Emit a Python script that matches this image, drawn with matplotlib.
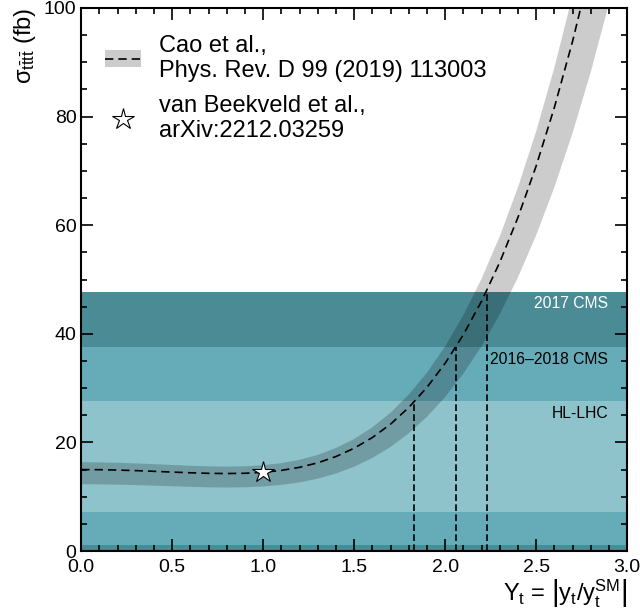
import numpy as np
import matplotlib
matplotlib.use("Agg")
import matplotlib.pyplot as plt
from matplotlib.patches import Patch
from matplotlib.lines import Line2D
from matplotlib.ticker import MultipleLocator

plt.rcParams['font.family'] = ['Liberation Sans', 'DejaVu Sans']
plt.rcParams['mathtext.fontset'] = 'custom'
plt.rcParams['mathtext.rm'] = 'Liberation Sans'
plt.rcParams['mathtext.it'] = 'Liberation Sans:italic'
plt.rcParams['mathtext.bf'] = 'Liberation Sans:bold'

# Cao et al. prediction vs top Yukawa modifier
yt = [0.0, 0.1, 0.2, 0.3, 0.4, 0.5, 0.6, 0.7, 0.8, 0.9, 1.0,
      1.1, 1.2, 1.3, 1.4, 1.5, 1.6, 1.7, 1.8, 1.9, 2.0,
      2.1, 2.2, 2.3, 2.4, 2.5, 2.6, 2.7, 2.8, 2.9, 3.0]
xsec = [15.00, 14.98, 14.91, 14.81, 14.68, 14.54, 14.41, 14.31, 14.27, 14.32, 14.50,
        14.85, 15.42, 16.25, 17.41, 18.94, 20.91, 23.38, 26.45, 30.16, 34.60,
        39.86, 46.03, 53.20, 61.47, 70.94, 81.71, 93.89, 107.61, 122.97, 140.10]
xsec_up = [16.35, 16.33, 16.25, 16.14, 16.00, 15.85, 15.71, 15.60, 15.55, 15.61, 15.81,
           16.19, 16.81, 17.71, 18.98, 20.64, 22.79, 25.48, 28.83, 32.87, 37.71,
           43.45, 50.17, 57.99, 67.00, 77.32, 89.06, 102.34, 117.29, 134.04, 152.70]
xsec_dn = [12.30, 12.28, 12.23, 12.14, 12.04, 11.92, 11.82, 11.73, 11.70, 11.74, 11.89,
           12.18, 12.64, 13.33, 14.28, 15.53, 17.15, 19.17, 21.69, 24.73, 28.37,
           32.69, 37.74, 43.62, 50.41, 58.17, 67.00, 76.99, 88.24, 100.84, 114.90]

# SM point (van Beekveld et al.)
sm_yt = 1.0
sm_xsec = 14.5

# measurement / projection bands
band_names = ['2017 CMS', '2016\u20132018 CMS', 'HL-LHC']
band_lo = [0.0, 1.1, 7.2]
band_hi = [47.7, 37.5, 27.7]
band_text_y = [45.5, 35.2, 25.4]
band_colors = ['#4a8b96', '#66abb8', '#8fc3cc']
band_text_colors = ['white', 'black', 'black']

# limits on Y_t where the prediction crosses each upper bound
limit_yt = [2.229, 2.060, 1.831]

fig = plt.figure(figsize=(6.4, 6.15), dpi=100)
ax = fig.add_axes([0.127, 0.104, 0.853, 0.883])

for lo, hi, c in zip(band_lo, band_hi, band_colors):
    ax.axhspan(lo, hi, color=c, lw=0, zorder=0)
for name, ty, tc in zip(band_names, band_text_y, band_text_colors):
    ax.text(2.895, ty, name, ha='right', va='center', color=tc, fontsize=11.3, zorder=5)

ax.fill_between(yt, xsec_dn, xsec_up, color='black', alpha=0.2, lw=0, zorder=2)
ax.plot(yt, xsec, color='black', ls=(0, (5, 3)), lw=1.2, zorder=3)

for x, hi in zip(limit_yt, band_hi):
    ax.plot([x, x], [0, hi], color='black', ls=(0, (4, 2)), lw=1.2, zorder=3)

ax.plot(sm_yt, sm_xsec, marker='*', ms=16, mfc='white', mec='black', mew=0.8,
        ls='none', zorder=4)

ax.set_xlim(0, 3)
ax.set_ylim(0, 100)
ax.xaxis.set_major_locator(MultipleLocator(0.5))
ax.xaxis.set_minor_locator(MultipleLocator(0.1))
ax.yaxis.set_major_locator(MultipleLocator(20))
ax.yaxis.set_minor_locator(MultipleLocator(5))
ax.tick_params(which='both', direction='in', top=True, right=True, labelsize=14, width=1.2)
ax.tick_params(which='major', length=8.5)
ax.tick_params(which='minor', length=4.5)
ax.tick_params(axis='x', pad=6)
for s in ax.spines.values():
    s.set_linewidth(1.5)

ax.set_xlabel(r'$\mathrm{Y_t}$ = $\left|\mathrm{y_t/y_t^{SM}}\right|$', fontsize=17,
              loc='right', labelpad=0.5)
ax.set_ylabel('\u03c3' + r'$_{\mathrm{t\bar{t}t\bar{t}}}$ (fb)', fontsize=17, loc='top')

handles = [(Patch(color='#cccccc', lw=0), Line2D([], [], color='black', ls=(0, (5, 3)), lw=1.2)),
           Line2D([], [], marker='*', ms=16, mfc='white', mec='black', mew=0.8, ls='none')]
labels = ['Cao et al.,\nPhys. Rev. D 99 (2019) 113003',
          'van Beekveld et al.,\narXiv:2212.03259']
ax.legend(handles, labels, loc='upper left', frameon=False, fontsize=17,
          bbox_to_anchor=(0.005, 0.99), handlelength=1.52, handletextpad=0.75,
          labelspacing=0.55)

fig.savefig('out.png', dpi=100)
